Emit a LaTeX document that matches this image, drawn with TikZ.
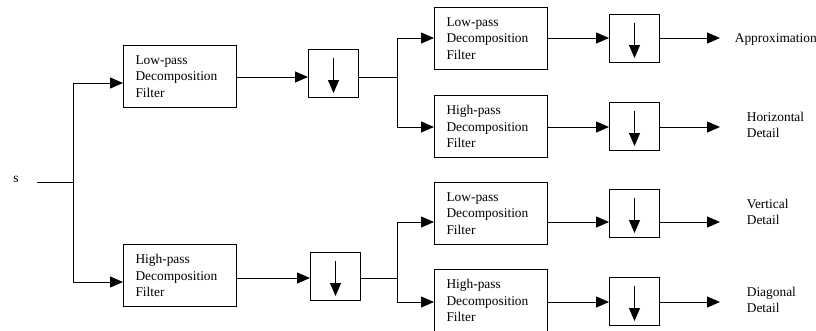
\documentclass[tikz,border=0pt]{standalone}
\usepackage{fontspec}
\setmainfont{Liberation Serif}
\usetikzlibrary{arrows.meta}
\begin{document}
\begin{tikzpicture}[x=1pt,y=-1pt,
  line width=1pt,
  arr/.style={-{Triangle[length=13pt,width=11pt]}},
  filt/.style={draw, minimum width=113pt, minimum height=62pt, inner xsep=12pt,
    text width=89pt, align=left, anchor=north west,
    font=\fontsize{13.4}{16.5}\selectfont},
  dsbox/.style={draw, minimum width=50pt, minimum height=48pt, anchor=north west},
  lbl/.style={anchor=west, align=left, font=\fontsize{13.4}{16.5}\selectfont}]
\useasboundingbox (0,0) rectangle (816,330);
% horizontal levels
\coordinate (ya) at (0,83);
\coordinate (yb) at (0,77);
\coordinate (yc) at (0,282);
\coordinate (yd) at (0,278);
\coordinate (y1) at (0,38);
\coordinate (y2) at (0,127);
\coordinate (y3) at (0,222);
\coordinate (y4) at (0,302);
% input
\node[anchor=center, font=\fontsize{13.4}{15}\selectfont] (s) at (16,179) {s};
\coordinate (j0) at (73,182);
\coordinate (s0) at (37,182);
% level 1
\node[filt] (lp1) at (123,45) {Low-pass\\Decomposition\\Filter};
\node[filt] (hp1) at (123,244) {High-pass\\Decomposition\\Filter};
\node[dsbox] (d1) at (308,49) {};
\node[dsbox] (d2) at (310,252) {};
% level 2
\node[filt] (lpa) at (434,7) {Low-pass\\Decomposition\\Filter};
\node[filt] (hpa) at (434,95) {High-pass\\Decomposition\\Filter};
\node[filt] (lpb) at (434,182) {Low-pass\\Decomposition\\Filter};
\node[filt] (hpb) at (434,269) {High-pass\\Decomposition\\Filter};
\node[dsbox] (da) at (609,14) {};
\node[dsbox] (db) at (609,102) {};
\node[dsbox] (dc) at (609,189) {};
\node[dsbox] (dd) at (609,277) {};
% outputs
\coordinate (oa) at (720,38);
\coordinate (ob) at (720,127);
\coordinate (oc) at (720,222);
\coordinate (od) at (720,302);
\node[lbl] (ta) at (731,39) {Approximation};
\node[lbl] (tb) at (743,125) {Horizontal\\Detail};
\node[lbl] (tc) at (743,212) {Vertical\\Detail};
\node[lbl] (td) at (743,300) {Diagonal\\Detail};
% branch points
\coordinate (j1) at (397,77);
\coordinate (j2) at (397,278);
% connectors
\draw (s0) -- (j0);
\draw[arr] (j0) |- (lp1.west |- ya);
\draw[arr] (j0) |- (hp1.west |- yc);
\draw[arr] (lp1.east |- yb) -- (d1.west |- yb);
\draw[arr] (hp1.east |- yd) -- (d2.west |- yd);
\draw (d1.east |- yb) -- (j1);
\draw (d2.east |- yd) -- (j2);
\draw[arr] (j1) |- (lpa.west |- y1);
\draw[arr] (j1) |- (hpa.west |- y2);
\draw[arr] (j2) |- (lpb.west |- y3);
\draw[arr] (j2) |- (hpb.west |- y4);
\draw[arr] (lpa.east |- y1) -- (da.west |- y1);
\draw[arr] (hpa.east |- y2) -- (db.west |- y2);
\draw[arr] (lpb.east |- y3) -- (dc.west |- y3);
\draw[arr] (hpb.east |- y4) -- (dd.west |- y4);
\draw[arr] (da.east |- y1) -- (oa);
\draw[arr] (db.east |- y2) -- (ob);
\draw[arr] (dc.east |- y3) -- (oc);
\draw[arr] (dd.east |- y4) -- (od);
% down arrows inside boxes
\foreach \b in {d1,d2,da,db,dc,dd}{
  \draw[arr] ([yshift=-9pt]\b.north) -- ([yshift=5pt]\b.south);
}
\end{tikzpicture}
\end{document}
